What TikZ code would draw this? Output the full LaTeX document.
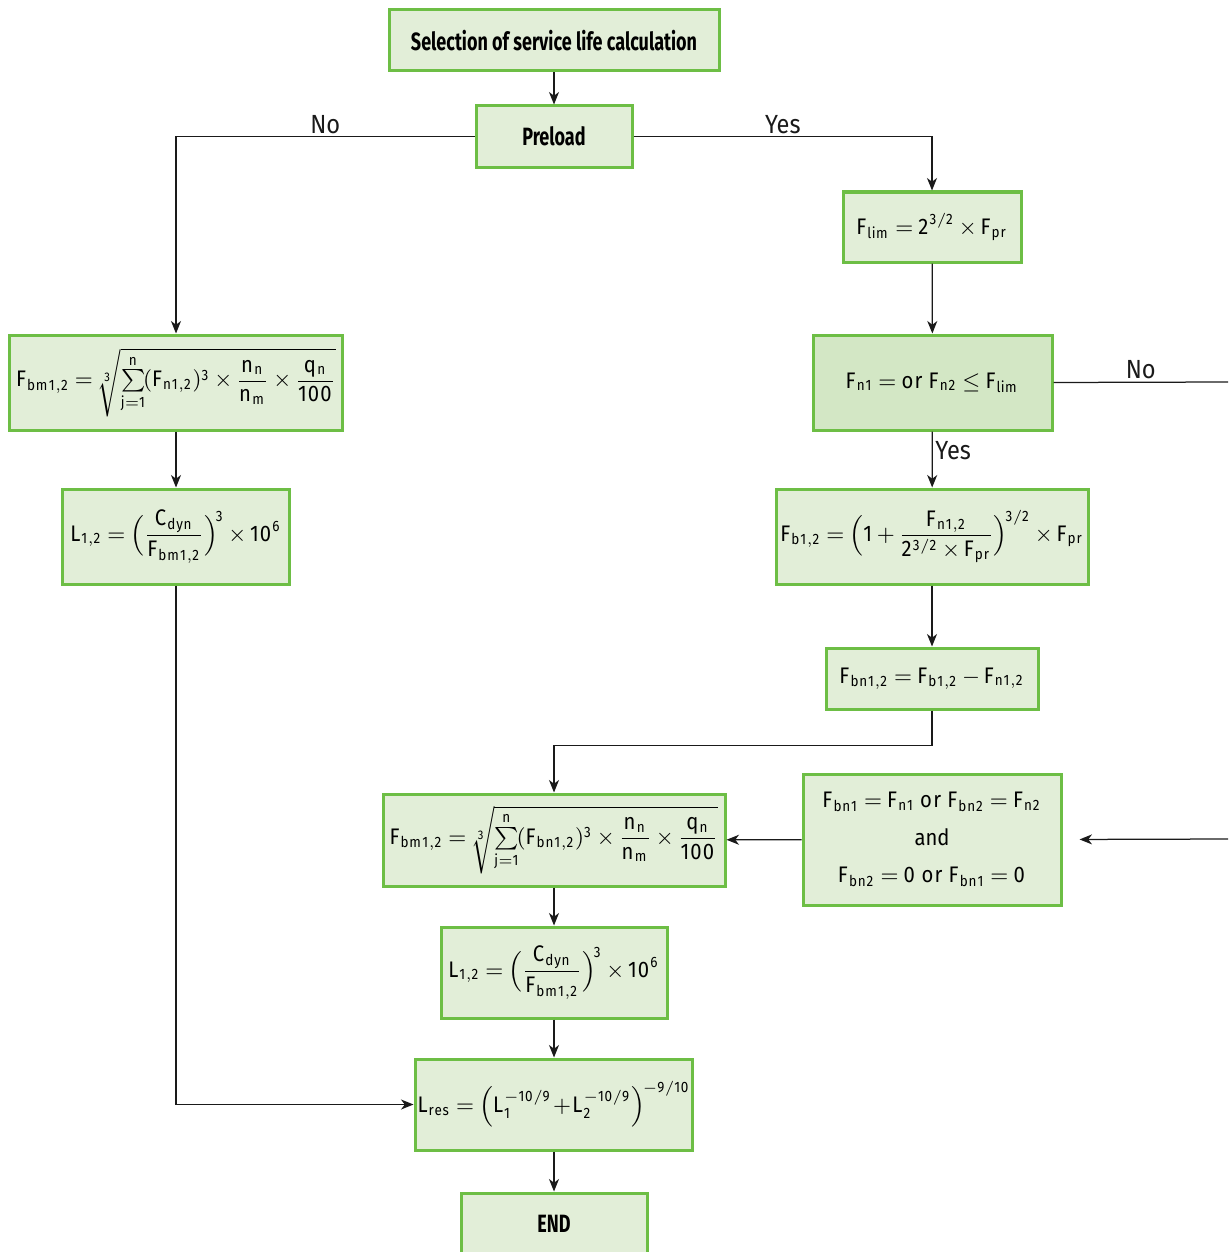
\documentclass[tikz,border=0pt]{standalone}
\usepackage{amsmath}
\usepackage{fontspec}
\setmainfont{Fira Sans}[FakeStretch=0.9]
\newfontfamily\headfont[FakeStretch=0.72]{Fira Sans}
\usetikzlibrary{arrows.meta,positioning}
\definecolor{bxgreen}{HTML}{6DBE45}
\definecolor{bxfill}{HTML}{E2EED8}
\definecolor{bxdark}{HTML}{D3E7C5}
\definecolor{lnblack}{HTML}{1A1A1A}
\newcommand\Fx[1]{\mathrm{F}_{\mathrm{#1}}}
\newcommand\Lx[1]{\mathrm{L}_{\mathrm{#1}}}
\newcommand\nm[1]{\mathrm{#1}}
\newcommand\tight{\thickmuskip=4mu plus 1mu\medmuskip=3mu\thinmuskip=2mu}
\tikzset{
  box/.style  = {rectangle, draw=bxgreen, line width=1.2pt, fill=bxfill,
                 inner sep=1pt, align=center, font=\fontsize{9}{15}\selectfont\tight},
  hd/.style   = {box, font=\headfont\bfseries\fontsize{10}{12}\selectfont},
  ed/.style   = {-{Stealth[length=5pt,width=4pt,inset=1.5pt]}, draw=lnblack, line width=0.5pt},
  lbl/.style  = {font=\fontsize{10.5}{12}\selectfont, inner sep=1pt, text=lnblack},
}
\begin{document}
\begin{tikzpicture}[x=0.4pt,y=-0.4pt]
  \useasboundingbox (0,0) rectangle (1228,1252);
  % top
  \node[hd, minimum width=132pt, minimum height=24.4pt] (sel) at (554,40.5) {Selection of service life calculation};
  \node[hd, minimum width=62.4pt, minimum height=24.4pt] (pre) at (554,136.5) {Preload};
  % right branch
  \node[box, minimum width=71.2pt, minimum height=28pt] (flim) at (932,227) {$\Fx{lim} = \nm{2}^{\nm{3/2}} \times \Fx{pr}$};
  \node[box, fill=bxdark, minimum width=95.6pt, minimum height=38pt] (cond) at (932.5,382.5) {$\Fx{n1} = \nm{or}\ \Fx{n2} \leq \Fx{lim}$};
  \node[box, minimum width=124.8pt, minimum height=38pt] (fb) at (932,536.5)
    {$\Fx{b1,2} = \Bigl(\nm{1} + \dfrac{\Fx{n1,2}}{\nm{2}^{\nm{3/2}}\times\Fx{pr}}\Bigr)^{\!\nm{3/2}} \times \Fx{pr}$};
  \node[box, minimum width=84.8pt, minimum height=24.4pt] (fbn) at (932,678.5) {$\Fx{bn1,2} = \Fx{b1,2} - \Fx{n1,2}$};
  \node[box, minimum width=103.2pt, minimum height=52.4pt] (andb) at (932,839.5)
    {$\Fx{bn1} = \Fx{n1}\ \nm{or}\ \Fx{bn2} = \Fx{n2}$\\ and\\ $\Fx{bn2} = \nm{0}\ \nm{or}\ \Fx{bn1} = \nm{0}$};
  % left branch
  \node[box, minimum width=132.8pt, minimum height=38pt] (fbml) at (176,382.5)
    {$\Fx{bm1,2} = \sqrt[\nm{3}]{\sum\limits_{\nm{j=1}}^{\nm{n}}\! (\Fx{n1,2})^{\nm{3}} \times \dfrac{\nm{n_n}}{\nm{n_m}} \times \dfrac{\nm{q_n}}{\nm{100}}}$};
  \node[box, minimum width=90.4pt, minimum height=38pt] (l1) at (176,536.5)
    {$\Lx{1,2} = \Bigl(\dfrac{\nm{C_{dyn}}}{\Fx{bm1,2}}\Bigr)^{\!\nm{3}} \times \nm{10}^{\nm{6}}$};
  % middle
  \node[box, minimum width=136.8pt, minimum height=36.8pt] (fbmm) at (554,840)
    {$\Fx{bm1,2} = \sqrt[\nm{3}]{\sum\limits_{\nm{j=1}}^{\nm{n}}\! (\Fx{bn1,2})^{\nm{3}} \times \dfrac{\nm{n_n}}{\nm{n_m}} \times \dfrac{\nm{q_n}}{\nm{100}}}$};
  \node[box, minimum width=90.4pt, minimum height=36.4pt] (l2) at (554,972.5)
    {$\Lx{1,2} = \Bigl(\dfrac{\nm{C_{dyn}}}{\Fx{bm1,2}}\Bigr)^{\!\nm{3}} \times \nm{10}^{\nm{6}}$};
  \node[box, minimum width=108.8pt, minimum height=36.4pt] (lres) at (554,1104.5)
    {$\medmuskip=1mu \Lx{res} = \Bigl(\mathrm{L}_{\nm{1}}^{-\nm{10/9}} + \mathrm{L}_{\nm{2}}^{-\nm{10/9}}\Bigr)^{\!-\nm{9/10}}$};
  \node[hd, minimum width=74.4pt, minimum height=24.4pt] (endb) at (554,1223.5) {END};
  \coordinate (noout) at (1228,382);
  \coordinate (noin) at (1228,839);
  % connectors
  \draw[ed] (sel) -- (pre);
  \draw[ed] (pre.west) -| node[lbl, pos=0.25, above] {No} (fbml.north);
  \draw[ed] (pre.east) -| node[lbl, pos=0.25, above] {Yes} (flim.north);
  \draw[ed] (flim) -- (cond);
  \draw[ed, -] (cond.east) -- node[lbl, midway, above] {No} (noout);
  \draw[ed] (cond) -- node[lbl, pos=0.35, right] {Yes} (fb);
  \draw[ed] (fb) -- (fbn);
  \draw[ed] (fbn.south) -- ++(0,35) -| (fbmm.north);
  \draw[ed, shorten >=6.8pt] (noin) -- (andb.east);
  \draw[ed] (andb) -- (fbmm);
  \draw[ed] (fbml) -- (l1);
  \draw[ed] (l1.south) |- (lres.west);
  \draw[ed] (fbmm) -- (l2);
  \draw[ed] (l2) -- (lres);
  \draw[ed] (lres) -- (endb);
\end{tikzpicture}
\end{document}
